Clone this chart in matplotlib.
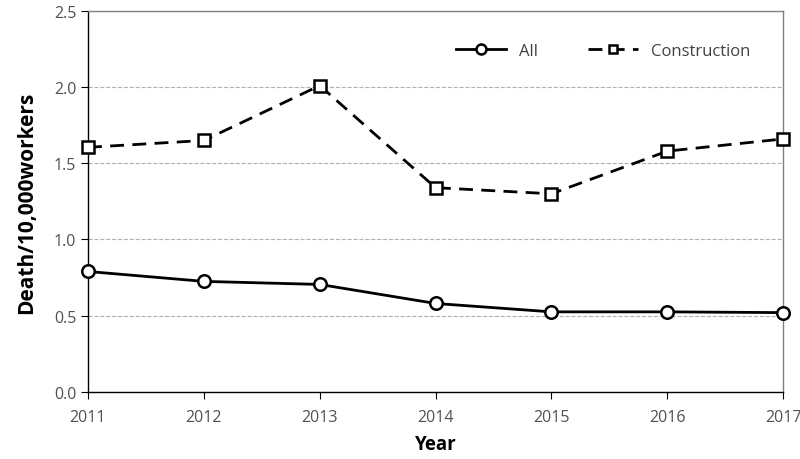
import matplotlib
matplotlib.use('Agg')
import matplotlib.pyplot as plt

plt.rcParams['font.family'] = ['Open Sans', 'DejaVu Sans']

years = [2011, 2012, 2013, 2014, 2015, 2016, 2017]
all_rate = [0.79, 0.725, 0.705, 0.58, 0.525, 0.525, 0.52]
construction = [1.605, 1.65, 2.01, 1.34, 1.30, 1.58, 1.66]

fig = plt.figure(figsize=(8, 4.6), dpi=100)
ax = fig.add_axes([0.11, 0.146, 0.869, 0.828])

ax.plot(years, all_rate, color='black', lw=2, ls='-', marker='o', ms=9,
        mfc='white', mec='black', mew=1.8, label='All', clip_on=False, zorder=3)
ax.plot(years, construction, color='black', lw=2, ls=(0, (5, 3)), marker='s', ms=8,
        mfc='white', mec='black', mew=1.8, label='Construction', clip_on=False, zorder=3)

ax.set_xlim(2011, 2017)
ax.set_ylim(0, 2.5)
ax.set_yticks([0.0, 0.5, 1.0, 1.5, 2.0, 2.5])
ax.set_yticklabels(['0.0', '0.5', '1.0', '1.5', '2.0', '2.5'])
ax.set_xticks(years)
ax.yaxis.grid(True, ls='--', color='#b0b0b0', lw=0.8)
ax.set_axisbelow(True)

for s in ax.spines.values():
    s.set_color('#808080')
    s.set_linewidth(1)
ax.spines['left'].set_color('black')
ax.spines['bottom'].set_color('black')
ax.tick_params(direction='out', length=5, colors='black', labelsize=11.5,
               labelcolor='#505050')
ax.tick_params(axis='x', pad=7)

ax.set_xlabel('Year', fontsize=13.5, fontweight='bold', labelpad=7)
ax.set_ylabel('Death/10,000workers', fontsize=15, fontweight='bold', labelpad=12)

ax.legend(loc='upper right', bbox_to_anchor=(0.975, 0.955), ncol=2, frameon=False,
          fontsize=12, handlelength=3, columnspacing=3, labelcolor='#404040',
          markerscale=0.8)

fig.savefig('out.png', dpi=100)
